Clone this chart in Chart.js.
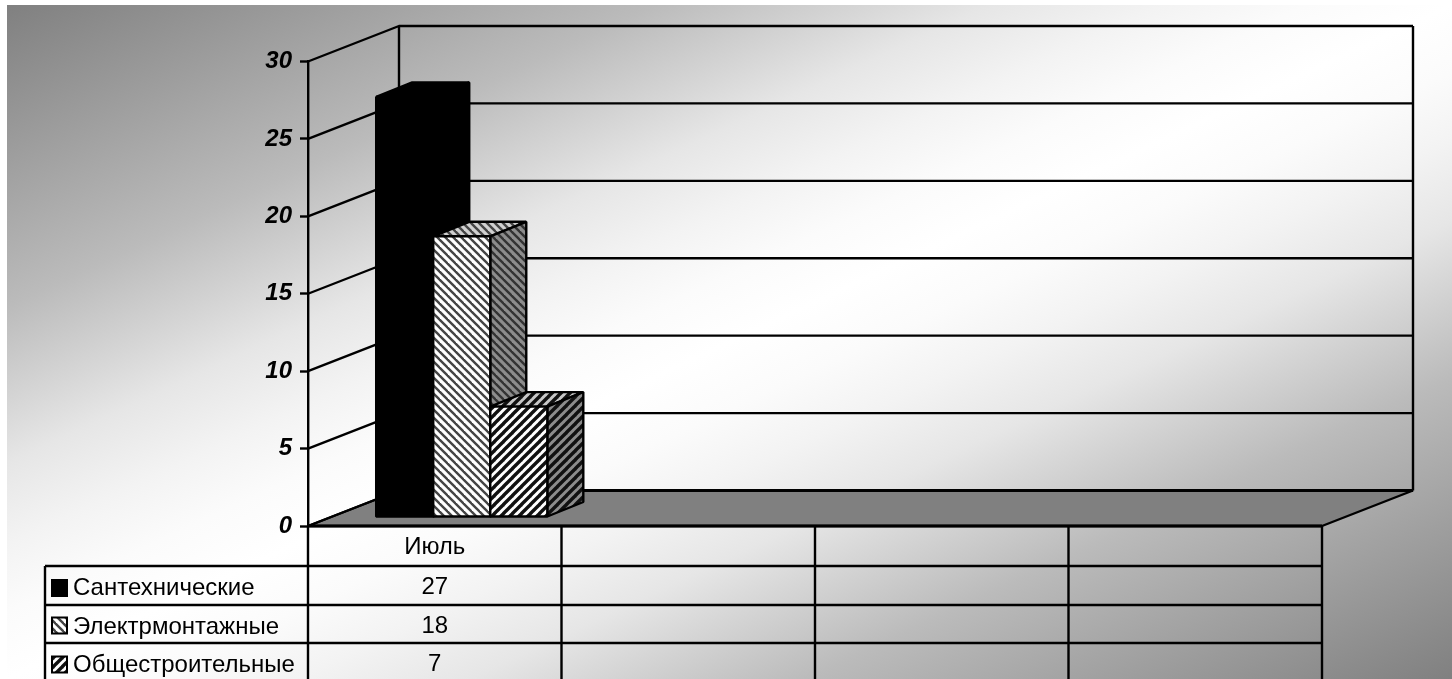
<!DOCTYPE html>
<html lang="ru">
<head>
  <meta charset="UTF-8">
  <title>Июль</title>
  <script src="https://cdn.jsdelivr.net/npm/chart.js"></script>
  <style>
    html, body { margin: 0; padding: 0; background: #fff; overflow: hidden; }
    canvas { display: block; }
  </style>
</head>
<body>
  <canvas id="graphique" width="1452" height="679" style="width:1452px;height:679px"></canvas>

  <script>
    const categories = ['Июль', '', '', ''];
    const seriesNames = ['Сантехнические', 'Электрмонтажные', 'Общестроительные'];
    const santeh = [27];
    const elektr = [18];
    const obshch = [7];
    const yTicks = [0, 5, 10, 15, 20, 25, 30];

    const FONT = '"Liberation Sans", Arial, sans-serif';
    const depth = { x: 91, y: -35.5 };    // wall offset from the front of the floor
    const barDepth = { x: 36, y: -14.5 }; // depth of one bar
    const barShift = { x: 27, y: -9 };    // bars stand a little way into the floor
    const barLift = 2;
    const rowY = [526, 566, 605, 643, 682];
    const legendLeft = 45;
    const keyMid = [588, 625.5, 664.5];
    const LINE = 2.4;

    // diagonal stripes, dir 1 = "\" and dir -1 = "/"
    function hatch(bg, fg, dir, size, width) {
      const c = document.createElement('canvas');
      c.width = c.height = size;
      const g = c.getContext('2d');
      g.fillStyle = bg;
      g.fillRect(0, 0, size, size);
      g.strokeStyle = fg;
      g.lineWidth = width;
      for (let i = -size; i <= size; i += size) {
        g.beginPath();
        if (dir > 0) { g.moveTo(i - 1, -1); g.lineTo(i + size + 1, size + 1); }
        else { g.moveTo(i - 1, size + 1); g.lineTo(i + size + 1, -1); }
        g.stroke();
      }
      return g.createPattern(c, 'repeat');
    }

    const ctx0 = document.getElementById('graphique').getContext('2d');
    const faces = [
      { front: '#000', top: '#000', side: '#000' },
      { front: hatch('#fff', '#444', 1, 8, 2.4), top: hatch('#d0d0d0', '#444', 1, 8, 2.4), side: hatch('#8c8c8c', '#333', 1, 8, 2.4) },
      { front: hatch('#fff', '#111', -1, 9, 3.4), top: hatch('#c8c8c8', '#111', -1, 9, 3.4), side: hatch('#8c8c8c', '#111', -1, 9, 3.4) }
    ];

    function poly(ctx, pts, fill) {
      ctx.beginPath();
      pts.forEach((p, i) => i ? ctx.lineTo(p[0], p[1]) : ctx.moveTo(p[0], p[1]));
      ctx.closePath();
      if (fill) { ctx.fillStyle = fill; ctx.fill(); }
      ctx.stroke();
    }

    const backdrop = {
      id: 'backdrop',
      beforeDraw(chart) {
        const ctx = chart.ctx;
        const x0 = 7, y0 = 5, w = chart.width - x0, h = chart.height - y0;
        // white band runs along the lower left to upper right diagonal
        const l = Math.hypot(w, h), k = w * h / (l * l);
        const cx = x0 + w / 2, cy = y0 + h / 2;
        const grad = ctx.createLinearGradient(cx - h * k, cy - w * k, cx + h * k, cy + w * k);
        [[0, 128], [0.224, 187], [0.3, 215], [0.34, 230], [0.4, 243], [0.45, 251], [0.5, 255]].forEach(s => {
          const c = `rgb(${s[1]},${s[1]},${s[1]})`;
          grad.addColorStop(s[0], c);
          grad.addColorStop(1 - s[0], c);
        });
        ctx.save();
        ctx.fillStyle = grad;
        ctx.fillRect(x0, y0, w, h);
        ctx.restore();
      },
      beforeDatasetsDraw(chart) {
        const ctx = chart.ctx, x = chart.scales.x, y = chart.scales.y;
        const left = x.left, right = x.right, zero = y.getPixelForValue(0);
        const top = y.getPixelForValue(30);
        ctx.save();
        ctx.strokeStyle = '#000';
        ctx.lineJoin = 'bevel';

        // floor
        ctx.lineWidth = LINE;
        poly(ctx, [[left, zero], [left + depth.x, zero + depth.y], [right + depth.x, zero + depth.y], [right, zero]], '#808080');

        // walls
        yTicks.forEach(v => {
          const py = y.getPixelForValue(v);
          ctx.beginPath();
          ctx.moveTo(left, py);
          ctx.lineTo(left + depth.x, py + depth.y);
          ctx.lineTo(right + depth.x, py + depth.y);
          ctx.stroke();
        });
        ctx.beginPath();
        ctx.moveTo(left + depth.x, top + depth.y);
        ctx.lineTo(left + depth.x, zero + depth.y);
        ctx.moveTo(right + depth.x, top + depth.y);
        ctx.lineTo(right + depth.x, zero + depth.y);
        ctx.stroke();
        ctx.lineWidth = 3;
        ctx.beginPath();
        ctx.moveTo(left + depth.x, zero + depth.y);
        ctx.lineTo(right + depth.x, zero + depth.y);
        ctx.moveTo(left, zero);
        ctx.lineTo(right, zero);
        ctx.stroke();

        // bars, first series at the back of the painting order
        ctx.lineWidth = LINE;
        chart.data.datasets.forEach((ds, i) => {
          const bar = chart.getDatasetMeta(i).data[0];
          const f = faces[i];
          const l = bar.x - bar.width / 2 + barShift.x, r = bar.x + bar.width / 2 + barShift.x;
          const t = bar.y + barShift.y - barLift, b = bar.base + barShift.y;
          const dx = barDepth.x, dy = barDepth.y;
          poly(ctx, [[l, t], [l + dx, t + dy], [r + dx, t + dy], [r, t]], f.top);
          poly(ctx, [[r, t], [r + dx, t + dy], [r + dx, b + dy], [r, b]], f.side);
          poly(ctx, [[l, t], [r, t], [r, b], [l, b]], ds.backgroundColor);
        });

        ctx.restore();
        return false; // bars are painted above in 3D, skip the flat ones
      },
      afterDraw(chart) {
        const ctx = chart.ctx, x = chart.scales.x;
        ctx.save();
        ctx.strokeStyle = '#000';
        ctx.fillStyle = '#000';
        ctx.lineWidth = LINE;

        // data table
        ctx.beginPath();
        rowY.slice(1, 4).forEach(py => { ctx.moveTo(legendLeft, py); ctx.lineTo(x.right, py); });
        const half = (x.getPixelForValue(1) - x.getPixelForValue(0)) / 2;
        categories.forEach((c, i) => {
          const px = x.getPixelForValue(i) + half;
          ctx.moveTo(px, rowY[0]); ctx.lineTo(px, rowY[4]);
        });
        ctx.moveTo(x.left, rowY[0]); ctx.lineTo(x.left, rowY[4]);
        ctx.moveTo(legendLeft, rowY[1]); ctx.lineTo(legendLeft, rowY[4]);
        ctx.stroke();

        ctx.font = '24px ' + FONT;
        ctx.textBaseline = 'middle';
        chart.data.datasets.forEach((ds, i) => {
          const mid = (rowY[i + 1] + rowY[i + 2]) / 2 + 3;
          ctx.textAlign = 'left';
          ctx.fillStyle = '#000';
          ctx.fillText(ds.label, 73, mid);
          ctx.textAlign = 'center';
          ds.data.forEach((v, j) => ctx.fillText(String(v), x.getPixelForValue(j), mid - 1));
          // legend key
          ctx.lineWidth = 2;
          ctx.beginPath();
          ctx.rect(52, keyMid[i] - 8, 15, 16);
          ctx.fillStyle = ds.backgroundColor;
          ctx.fill();
          ctx.stroke();
        });
        ctx.restore();
      }
    };

    new Chart(ctx0, {
      type: 'bar',
      data: {
        labels: categories,
        datasets: [
          { label: seriesNames[0], data: santeh, backgroundColor: faces[0].front },
          { label: seriesNames[1], data: elektr, backgroundColor: faces[1].front },
          { label: seriesNames[2], data: obshch, backgroundColor: faces[2].front }
        ]
      },
      plugins: [backdrop],
      options: {
        responsive: false,
        animation: false,
        devicePixelRatio: 1,
        categoryPercentage: 0.675,
        barPercentage: 1,
        layout: { padding: { top: 61.5, right: 130 } },
        plugins: { legend: { display: false }, tooltip: { enabled: false } },
        scales: {
          x: {
            afterFit: s => { s.height = 153; },
            grid: { display: false },
            border: { display: false },
            ticks: {
              autoSkip: false, maxRotation: 0, padding: -1, color: '#000',
              font: { family: FONT, size: 24 }
            }
          },
          y: {
            min: 0,
            max: 30,
            afterFit: s => { s.width = 308; },
            afterBuildTicks: s => { s.ticks = yTicks.map(v => ({ value: v })); },
            grid: { drawOnChartArea: false, drawTicks: true, tickLength: 8, tickColor: '#000', tickWidth: 2.4 },
            border: { display: true, color: '#000', width: 2.4 },
            ticks: {
              padding: 8, color: '#000',
              font: { family: FONT, size: 24, weight: 'bold', style: 'italic' }
            }
          }
        }
      }
    });
  </script>
</body>
</html>
